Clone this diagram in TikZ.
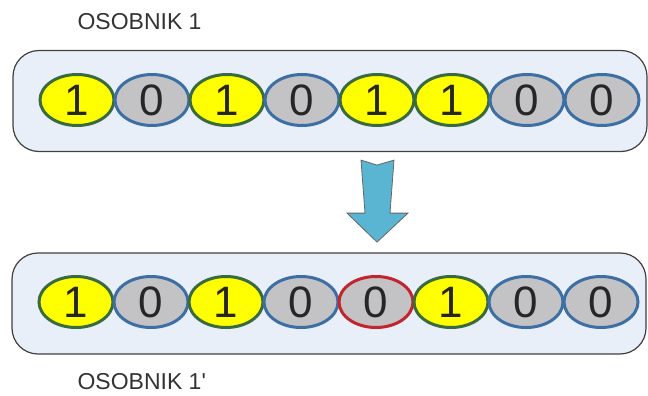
\documentclass[tikz,border=0pt]{standalone}
\usepackage{fontspec}
\setmainfont{Liberation Sans}[Ligatures=TeXOff]
\usetikzlibrary{shapes.geometric, positioning, calc}

\definecolor{boxbg}{HTML}{E8EFF8}
\definecolor{geneyellow}{HTML}{FFFF00}
\definecolor{genegrey}{HTML}{C3C3C5}
\definecolor{geneblue}{HTML}{3D6FA5}
\definecolor{genegreen}{HTML}{3A6A40}
\definecolor{genered}{HTML}{C0262C}
\definecolor{arrowfill}{HTML}{5AB5D2}

\begin{document}
\begin{tikzpicture}[
      x=1pt, y=-1pt,
      chrom/.style={draw=black!75, line width=1.2pt, rounded corners=26pt, fill=boxbg,
                    minimum width=634pt, minimum height=101pt},
      gene/.style={ellipse, draw=geneblue, line width=3pt, fill=genegrey,
                   minimum width=74pt, minimum height=51pt, inner sep=0pt, outer sep=0pt,
                   font=\fontsize{44}{44}\selectfont, text=black!85},
      one/.style={gene, draw=genegreen, fill=geneyellow},
      flip/.style={gene, draw=genered},
      lbl/.style={font=\fontsize{23}{23}\selectfont, text=black!80, anchor=west},
      arrowbody/.style={fill=arrowfill, draw=black!60, line width=0.8pt, line join=miter}
    ]
      \useasboundingbox (0,0) rectangle (648,396);
      % chromosomes
      \node[chrom] (top) at (330,101)   {};
      \node[chrom] (bot) at (329,303.5) {};
      % parent genes
      \node[one]  (a1) at (77,100) {1};
      \node[gene, right=1pt of a1] (a2) {0};
      \node[one,  right=1pt of a2] (a3) {1};
      \node[gene, right=1pt of a3] (a4) {0};
      \node[one,  right=1pt of a4] (a5) {1};
      \node[one,  right=1pt of a5] (a6) {1};
      \node[gene, right=1pt of a6] (a7) {0};
      \node[gene, right=1pt of a7] (a8) {0};
      % child genes, bit 5 flipped
      \node[one]  (b1) at (76,302) {1};
      \node[gene, right=1pt of b1] (b2) {0};
      \node[one,  right=1pt of b2] (b3) {1};
      \node[gene, right=1pt of b3] (b4) {0};
      \node[flip, right=1pt of b4] (b5) {0};
      \node[one,  right=1pt of b5] (b6) {1};
      \node[gene, right=1pt of b6] (b7) {0};
      \node[gene, right=1pt of b7] (b8) {0};
      % mutation arrow
      \coordinate (arrtop) at ($(top.south -| a5)+(0,8)$);
      \begin{scope}[shift={(arrtop)}]
        \draw[arrowbody] (-16,0) -- (0,5) -- (17,0) -- (13,53) -- (31,53)
                         -- (0,82) -- (-30,53) -- (-12,53) -- cycle;
      \end{scope}
      % labels
      \node[lbl] (lab1) at (74,22)  {OSOBNIK 1};
      \node[lbl] (lab2) at (74,382) {OSOBNIK 1'};
    \end{tikzpicture}
\end{document}
